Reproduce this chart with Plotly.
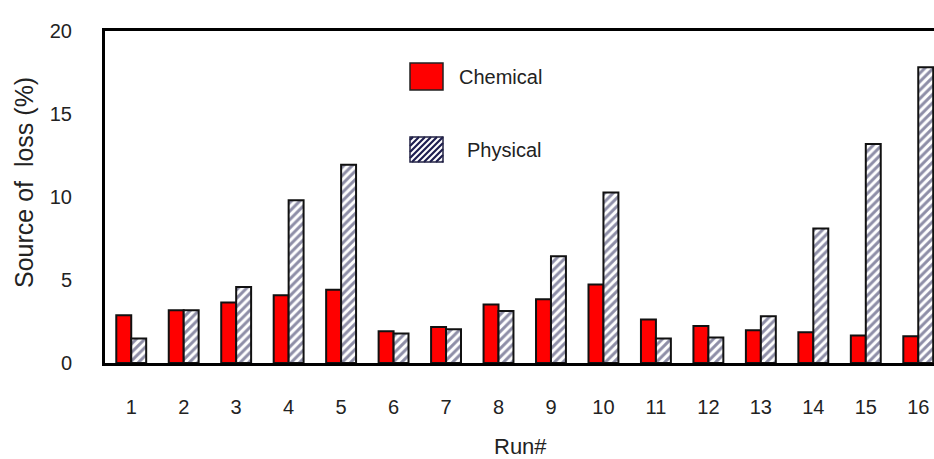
import plotly.graph_objects as go

runs = list(range(1, 17))
chemical = [2.88, 3.18, 3.64, 4.08, 4.42, 1.91, 2.17, 3.52, 3.84, 4.73, 2.62, 2.23, 1.97, 1.85, 1.65, 1.61]
physical = [1.47, 3.18, 4.58, 9.81, 11.95, 1.77, 2.03, 3.14, 6.43, 10.27, 1.47, 1.53, 2.82, 8.10, 13.2, 17.81]
y_ticks = [0, 5, 10, 15, 20]

W, H = 934, 459
ML, MR, MT, MB = 105, 0, 31, 459 - 363
PW, PH = W - ML - MR, H - MT - MB

def px2paper(x, y):
    return (x - ML) / PW, (H - MB - y) / PH

FONT = "Liberation Sans, Arial, sans-serif"
HATCH = "#1e1e50"

fig = go.Figure()
fig.add_trace(go.Bar(
    x=runs, y=chemical, name="Chemical",
    marker=dict(color="#ff0000", line=dict(color="#111111", width=2)),
    showlegend=False,
))
fig.add_trace(go.Bar(
    x=runs, y=physical, name="Physical",
    marker=dict(color="white", line=dict(color="#111111", width=2),
                pattern=dict(shape="/", fgcolor=HATCH, bgcolor="white", size=6, solidity=0.5)),
    showlegend=False,
))

shapes = []
x0, y0 = px2paper(410, 90)
x1, y1 = px2paper(443, 63)
shapes.append(dict(type="rect", xref="paper", yref="paper", x0=x0, y0=y0, x1=x1, y1=y1,
                   fillcolor="#ff0000", line=dict(color="#222222", width=1.5)))
rx0, ry0, rx1, ry1 = 410, 137, 443, 162
segs = []
c = rx0 + ry0 + 3
while c < rx1 + ry1:
    xa = max(rx0, c - ry1); xb = min(rx1, c - ry0)
    if xa < xb:
        p0 = px2paper(xa, c - xa); p1 = px2paper(xb, c - xb)
        segs.append(f"M{p0[0]},{p0[1]} L{p1[0]},{p1[1]}")
    c += 6
bl = px2paper(rx0, ry1); tr = px2paper(rx1, ry0)
shapes.append(dict(type="rect", xref="paper", yref="paper", x0=bl[0], y0=bl[1], x1=tr[0], y1=tr[1],
                   fillcolor="white", line=dict(width=0)))
shapes.append(dict(type="path", xref="paper", yref="paper", path=" ".join(segs),
                   line=dict(color=HATCH, width=2.2)))
shapes.append(dict(type="rect", xref="paper", yref="paper", x0=bl[0], y0=bl[1], x1=tr[0], y1=tr[1],
                   fillcolor="rgba(0,0,0,0)", line=dict(color="#222244", width=1.5)))

annotations = []
def add_text(text, x, y, size, xanchor="left", angle=0):
    ax, ay = px2paper(x, y)
    annotations.append(dict(text=text, xref="paper", yref="paper", x=ax, y=ay,
                            xanchor=xanchor, yanchor="middle", showarrow=False, textangle=angle,
                            font=dict(family=FONT, size=size, color="#222222")))

add_text("Chemical", 457, 77, 20)
add_text("Physical", 465, 150, 20)
add_text("Run#", 520, 446, 22, xanchor="center")
add_text("Source of  loss (%)", 24, 183, 25, xanchor="center", angle=-90)

fig.update_layout(
    width=W, height=H,
    margin=dict(l=ML, r=MR, t=MT, b=MB, pad=0, autoexpand=False),
    paper_bgcolor="white", plot_bgcolor="white",
    barmode="group", bargap=0.43, bargroupgap=0,
    font=dict(family=FONT, size=20, color="#222222"),
    shapes=shapes, annotations=annotations,
    xaxis=dict(
        range=[0.5, 16.3], tickmode="array", tickvals=runs, ticktext=[str(r) for r in runs],
        showline=True, linecolor="black", linewidth=3, mirror=True,
        showgrid=False, zeroline=False, ticks="", ticklabelstandoff=24,
        ticklabeloverflow="allow", automargin=False,
    ),
    yaxis=dict(
        range=[0, 20], tickmode="array", tickvals=y_ticks,
        showline=True, linecolor="black", linewidth=3,
        showgrid=False, zeroline=False, ticks="", ticklabelstandoff=26,
        ticklabeloverflow="allow", automargin=False,
    ),
)

fig.write_html("out.html", config={"displayModeBar": False},
               post_script="document.body.style.margin='0px';")
